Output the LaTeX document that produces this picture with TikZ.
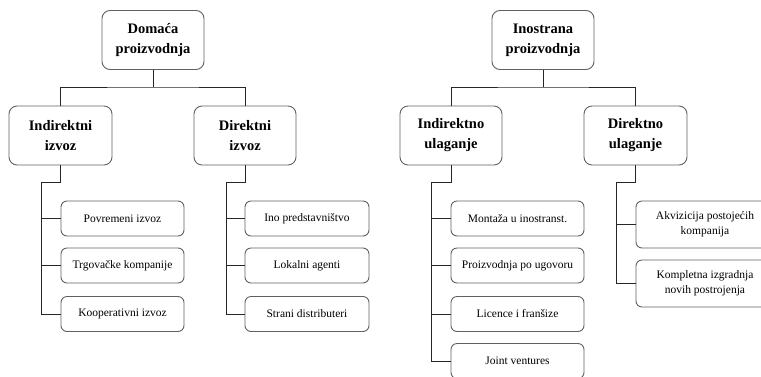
\documentclass[tikz,border=0pt]{standalone}
\usepackage{fontspec}
\setmainfont{LiberationSerif}[Extension=.ttf, UprightFont=*-Regular, BoldFont=*-Bold, ItalicFont=*-Italic, BoldItalicFont=*-BoldItalic]
\begin{document}
\begin{tikzpicture}[x=1pt,y=-1pt,
 box/.style={draw=black!62, line width=0.9pt, align=center, inner sep=0pt},
 bigbox/.style={box, rounded corners=8pt, minimum width=102pt, minimum height=59pt, font=\fontsize{14.5}{20}\selectfont\bfseries},
 smallbox/.style={box, rounded corners=6pt, minimum width=123pt, minimum height=35pt, font=\fontsize{11.5}{15}\selectfont},
 conn/.style={draw=black!85, line width=0.8pt}]
\useasboundingbox (0,0) rectangle (761,376);
\clip (0,0) rectangle (761,376);
% left tree
\node[bigbox] (D) at (153,40) {Domaća\\proizvodnja};
\node[bigbox, minimum width=103pt] (I1) at (60.5,135.5) {Indirektni\\izvoz};
\node[bigbox] (D1) at (245,135.5) {Direktni\\izvoz};
\node[smallbox] (a1) at (122.5,218.5) {Povremeni izvoz};
\node[smallbox] (a2) at (122.5,265.5) {Trgovačke kompanije};
\node[smallbox] (a3) at (122.5,314) {Kooperativni izvoz};
\node[smallbox, minimum width=124pt] (b1) at (307,218.5) {Ino predstavništvo};
\node[smallbox, minimum width=124pt] (b2) at (307,265.5) {Lokalni agenti};
\node[smallbox, minimum width=124pt] (b3) at (307,314) {Strani distributeri};
% right tree
\node[bigbox] (P) at (543,40) {Inostrana\\proizvodnja};
\node[bigbox] (I2) at (451,135.5) {Indirektno\\ulaganje};
\node[bigbox, minimum width=103pt] (D2) at (635.5,135.5) {Direktno\\ulaganje};
\node[smallbox, minimum width=133pt] (c1) at (517.5,218.5) {Montaža u inostranst.};
\node[smallbox, minimum width=133pt] (c2) at (517.5,265.5) {Proizvodnja po ugovoru};
\node[smallbox, minimum width=133pt] (c3) at (517.5,314) {Licence i franšize};
\node[smallbox, minimum width=133pt] (c4) at (517.5,361) {Joint ventures};
\node[smallbox, minimum width=138pt, minimum height=47pt] (d1) at (705,224.5) {Akvizicija postojećih\\kompanija};
\node[smallbox, minimum width=138pt, minimum height=47pt] (d2) at (705,283.5) {Kompletna izgradnja\\novih postrojenja};
% coordinates
\coordinate (h1) at (153,87);
\coordinate (h2) at (543,87);
\coordinate (r1) at (41,182);
\coordinate (r2) at (226,182);
\coordinate (r3) at (431,182);
\coordinate (r4) at (616,182);
% connectors top
\draw[conn] (D.south) -- (h1);
\draw[conn] (I1.north) |- (h1) -| (D1.north);
\draw[conn] (P.south) -- (h2);
\draw[conn] (I2.north) |- (h2) -| (D2.north);
% rails
\draw[conn] (I1.south) |- (r1) |- (a3.west);
\draw[conn] (r1 |- a1.west) -- (a1.west);
\draw[conn] (r1 |- a2.west) -- (a2.west);
\draw[conn] (D1.south) |- (r2) |- (b3.west);
\draw[conn] (r2 |- b1.west) -- (b1.west);
\draw[conn] (r2 |- b2.west) -- (b2.west);
\draw[conn] (I2.south) |- (r3) |- (c4.west);
\draw[conn] (r3 |- c1.west) -- (c1.west);
\draw[conn] (r3 |- c2.west) -- (c2.west);
\draw[conn] (r3 |- c3.west) -- (c3.west);
\draw[conn] (D2.south) |- (r4) |- (d2.west);
\draw[conn] (r4 |- d1.west) -- (d1.west);
\end{tikzpicture}
\end{document}
